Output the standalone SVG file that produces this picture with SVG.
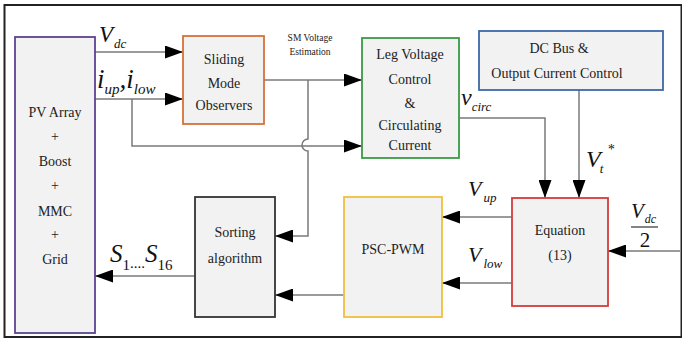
<svg xmlns="http://www.w3.org/2000/svg" width="682" height="340" viewBox="0 0 682 340" font-family="'Liberation Serif', serif">
<style>
.box{fill:#f2f2f2;stroke-width:1.8}
.t{font-size:14px;fill:#222;text-anchor:middle}
.m{font-style:italic;fill:#111}
.c{fill:none;stroke:#7a7a7a;stroke-width:1.5}
.arr{marker-end:url(#ah)}
</style>
<defs>
<marker id="ah" viewBox="0 0 18 13" markerWidth="18" markerHeight="13" refX="18" refY="6.5" orient="auto" markerUnits="userSpaceOnUse">
<path d="M0,0 L18,6.5 L0,13 z" fill="#000"/>
</marker>
</defs>
<rect x="0" y="0" width="682" height="340" fill="#fff"/>
<rect x="4.5" y="5" width="677" height="332" fill="#fff" stroke="#222" stroke-width="2"/>

<g id="connectors">
<path class="c arr" d="M95,52 H183"/>
<path class="c arr" d="M95,99 H183"/>
<path class="c arr" d="M132,99 V146 H362"/>
<path class="c arr" d="M264,80 H362"/>
<path class="c arr" d="M308,80 V139 A6,6 0 0 0 308,151 V236 H275"/>
<path class="c arr" d="M459,118 H545 V198"/>
<path class="c arr" d="M579,90 V198"/>
<path class="c arr" d="M680,251 H608"/>
<path class="c arr" d="M512,217 H442"/>
<path class="c arr" d="M512,283 H442"/>
<path class="c arr" d="M344,295 H275"/>
<path class="c arr" d="M195,276 H95"/>
</g>

<g id="pv">
<rect class="box" x="15" y="37" width="80" height="296" stroke="#5e4391"/>
<text class="t" x="55" y="117">PV Array</text>
<text class="t" x="55" y="141">+</text>
<text class="t" x="55" y="166">Boost</text>
<text class="t" x="55" y="190">+</text>
<text class="t" x="55" y="216">MMC</text>
<text class="t" x="55" y="239">+</text>
<text class="t" x="55" y="264">Grid</text>
</g>

<g id="smo">
<rect class="box" x="183" y="36" width="81" height="88" stroke="#d4733a"/>
<text class="t" x="224" y="64">Sliding</text>
<text class="t" x="224" y="88">Mode</text>
<text class="t" x="224" y="110">Observers</text>
</g>

<g id="leg">
<rect class="box" x="362" y="38" width="97" height="120" stroke="#3a9a44"/>
<text class="t" x="410" y="59">Leg Voltage</text>
<text class="t" x="410" y="84">Control</text>
<text class="t" x="410" y="108">&amp;</text>
<text class="t" x="410" y="130">Circulating</text>
<text class="t" x="410" y="150">Current</text>
</g>

<g id="dcbus">
<rect class="box" x="479" y="31" width="184" height="59" stroke="#3d68a8"/>
<text class="t" x="559" y="53">DC Bus &amp;</text>
<text class="t" x="557" y="78">Output Current Control</text>
</g>

<g id="equation">
<rect class="box" x="512" y="198" width="96" height="108" stroke="#d43b3b"/>
<text class="t" x="560" y="235">Equation</text>
<text class="t" x="560" y="260">(13)</text>
</g>

<g id="pscpwm">
<rect class="box" x="344" y="197" width="98" height="120" stroke="#f0bf3c"/>
<text class="t" x="393" y="254">PSC-PWM</text>
</g>

<g id="sorting">
<rect class="box" x="195" y="197" width="80" height="120" stroke="#333"/>
<text class="t" x="235" y="237">Sorting</text>
<text class="t" x="235" y="263">algorithm</text>
</g>

<g id="labels">
<text class="m" x="99" y="42" font-size="23">V<tspan font-size="13" dy="6" dx="1">dc</tspan></text>
<text class="m" x="97" y="88" font-size="27">i<tspan font-size="15" dy="6">up</tspan><tspan dy="-6">,</tspan><tspan>i</tspan><tspan font-size="15" dy="6">low</tspan></text>
<text x="310" y="41" font-size="9.5" fill="#222" text-anchor="middle">SM Voltage</text>
<text x="310" y="55" font-size="9.5" fill="#222" text-anchor="middle">Estimation</text>
<text class="m" x="461" y="105" font-size="24">v<tspan font-size="13" dy="6">circ</tspan></text>
<text class="m" x="586" y="167" font-size="24">V<tspan font-size="13" dy="6" dx="-1">t</tspan><tspan font-size="14" dy="-19" dx="4">*</tspan></text>
<text class="m" x="468" y="196" font-size="22">V<tspan font-size="13" dy="6" dx="2">up</tspan></text>
<text class="m" x="468" y="262" font-size="22">V<tspan font-size="13" dy="6" dx="2">low</tspan></text>
<text class="m" x="631" y="218" font-size="21">V<tspan font-size="12" dy="5" dx="1">dc</tspan></text>
<line x1="631" y1="227" x2="658" y2="227" stroke="#333" stroke-width="1.2"/>
<text x="645" y="247" font-size="21" fill="#111" text-anchor="middle">2</text>
<text class="m" x="110" y="262" font-size="25">S<tspan font-style="normal" font-size="15" dy="8">1</tspan><tspan font-style="normal" font-size="15" dy="-2">....</tspan><tspan dy="-6">S</tspan><tspan font-style="normal" font-size="15" dy="8">16</tspan></text>
</g>
</svg>
